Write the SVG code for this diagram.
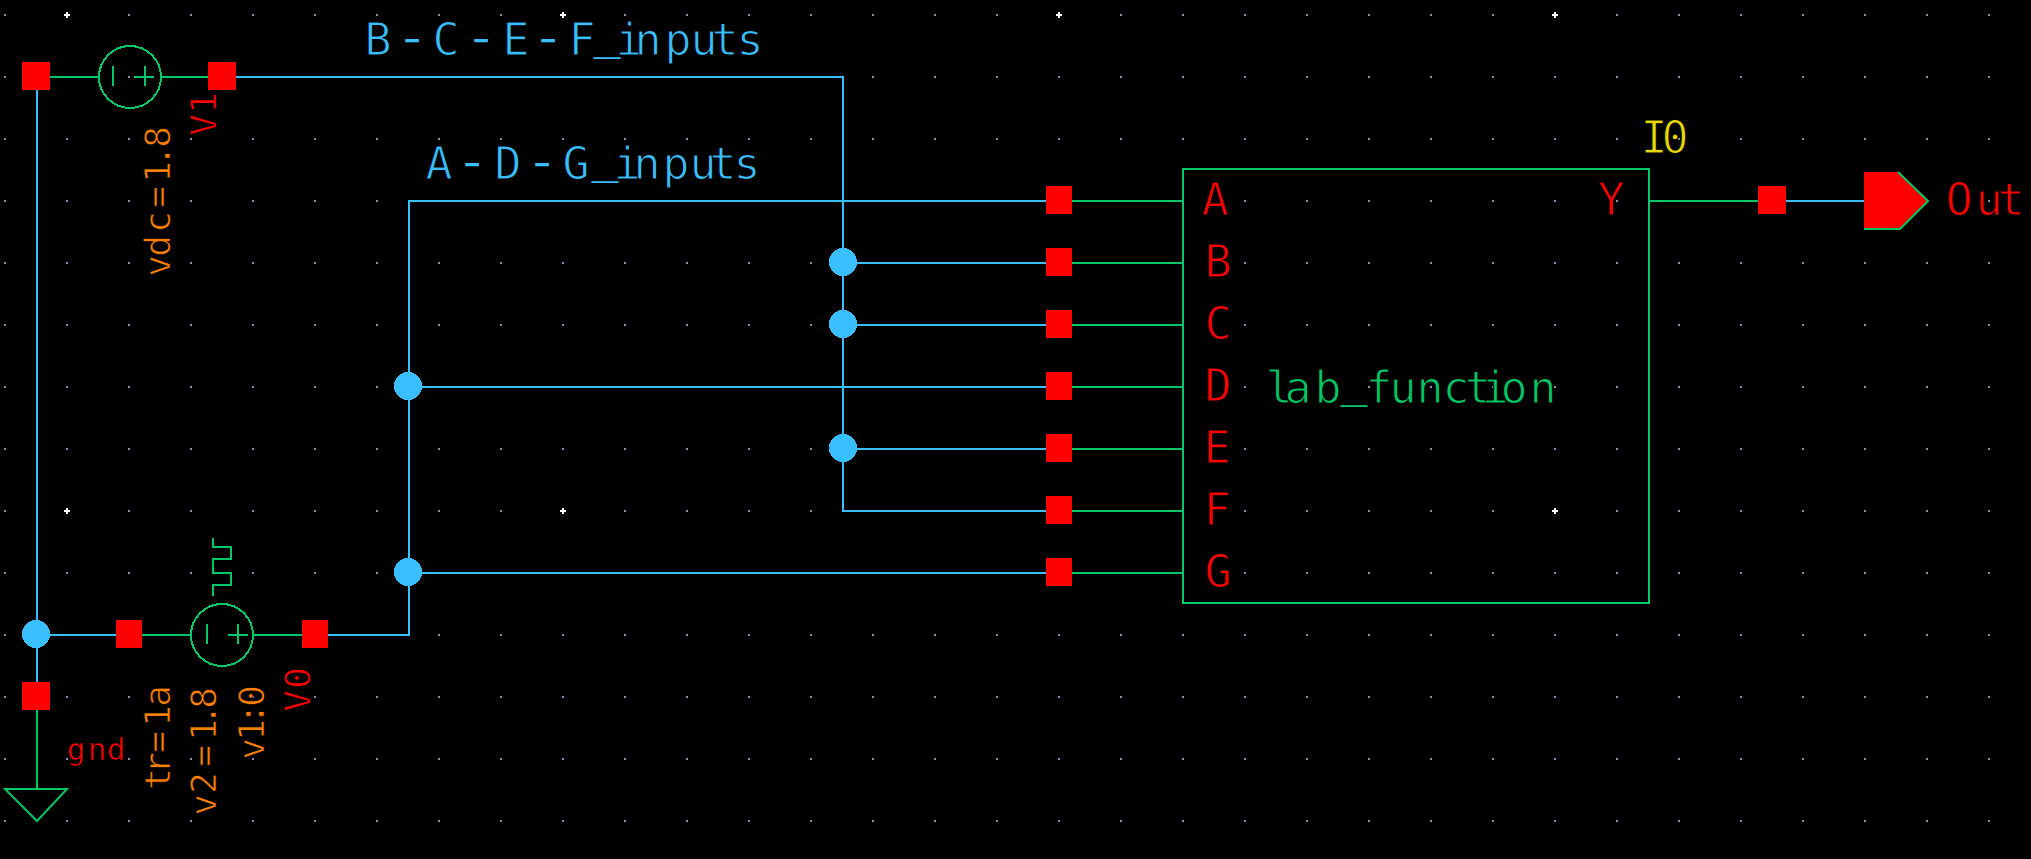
<svg xmlns="http://www.w3.org/2000/svg" width="2031" height="859" viewBox="0 0 2031 859">
<style>
.w{fill:none;stroke:#39bfff;stroke-width:2;shape-rendering:crispEdges}
.s{fill:none;stroke:#00c864;stroke-width:2;shape-rendering:crispEdges}
.p{fill:#f00;shape-rendering:crispEdges}
.j{fill:#39bfff;shape-rendering:crispEdges}
text{font-family:"DejaVu Sans Mono","Liberation Mono",monospace;text-anchor:middle;stroke:#000}
.big{font-size:45px;stroke-width:1.1px}
.small{font-size:36px;stroke-width:.8px}
.gn{font-size:31px;stroke-width:.6px}
.d{font-size:60px;stroke-width:1.6px}
.u{stroke:none}
.bl{fill:#39bfff}.gr{fill:#00c864}.rd{fill:#f00}.or{fill:#ff8000}.ye{fill:#e6d800}
.x{fill:#fff;shape-rendering:crispEdges}
</style>
<defs>
<pattern id="dots" patternUnits="userSpaceOnUse" x="4" y="14" width="62" height="62">
<rect width="2" height="2" fill="#8f8fb0"/>
</pattern>
<g id="cross"><rect x="-3" y="-1" width="6" height="2" class="x"/><rect x="-1" y="-3" width="2" height="6" class="x"/></g>
</defs>
<rect width="2031" height="859" fill="#000"/>
<g id="grid">
<rect x="4" y="14" width="2027" height="809" fill="url(#dots)"/>
<use href="#cross" x="67" y="15"/><use href="#cross" x="563" y="15"/><use href="#cross" x="1059" y="15"/><use href="#cross" x="1555" y="15"/>
<use href="#cross" x="67" y="511"/><use href="#cross" x="563" y="511"/><use href="#cross" x="1555" y="511"/>
</g>
<g id="connectors">
<path class="w" d="M37 90V682"/>
<path class="w" d="M236 77H843V511H1046"/>
<path class="w" d="M843 263H1046M843 325H1046M843 449H1046"/>
<path class="w" d="M328 635H409V201H1046"/>
<path class="w" d="M409 387H1046M409 573H1046"/>
<path class="w" d="M50 635H116"/>
<path class="w" d="M1786 201H1864"/>
<path class="s" d="M1072 201H1183M1072 263H1183M1072 325H1183M1072 387H1183M1072 449H1183M1072 511H1183M1072 573H1183"/>
<path class="s" d="M1649 201H1758"/>
<circle class="j" cx="843" cy="262" r="14"/><circle class="j" cx="843" cy="324" r="14"/><circle class="j" cx="843" cy="448" r="14"/>
<circle class="j" cx="408" cy="386" r="14"/><circle class="j" cx="408" cy="572" r="14"/><circle class="j" cx="36" cy="634" r="14"/>
<text class="big bl" y="55"><tspan x="378">B</tspan><tspan class="d" x="412" y="57">-</tspan><tspan x="446" y="55">C</tspan><tspan class="d" x="481" y="57">-</tspan><tspan x="516" y="55">E</tspan><tspan class="d" x="548" y="57">-</tspan><tspan x="582" y="55">F</tspan><tspan class="u" x="607" y="48">_</tspan><tspan x="629 648 678 704 725 750" y="55">inputs</tspan></text>
<text class="big bl" y="179"><tspan x="439">A</tspan><tspan class="d" x="472" y="181">-</tspan><tspan x="508" y="179">D</tspan><tspan class="d" x="542" y="181">-</tspan><tspan x="576" y="179">G</tspan><tspan class="u" x="605" y="172">_</tspan><tspan x="627 647 676 703 723 747" y="179">inputs</tspan></text>
</g>
<g id="pins">
<rect class="p" x="22" y="62" width="28" height="28"/><rect class="p" x="208" y="62" width="28" height="28"/>
<rect class="p" x="116" y="620" width="26" height="28"/><rect class="p" x="302" y="620" width="26" height="28"/>
<rect class="p" x="22" y="682" width="28" height="28"/>
<rect class="p" x="1046" y="186" width="26" height="28"/><rect class="p" x="1046" y="248" width="26" height="28"/><rect class="p" x="1046" y="310" width="26" height="28"/><rect class="p" x="1046" y="372" width="26" height="28"/><rect class="p" x="1046" y="434" width="26" height="28"/><rect class="p" x="1046" y="496" width="26" height="28"/><rect class="p" x="1046" y="558" width="26" height="28"/>
<rect class="p" x="1758" y="186" width="28" height="28"/>
</g>
<g id="V1">
<path class="s" d="M50 77H99M161 77H208"/>
<circle class="s" cx="130" cy="77" r="31"/>
<path class="s" d="M113 66V86M134 77H154M145 66V86"/>
<text class="small or" transform="translate(170 0) rotate(-90)" x="-266 -246 -222 -197 -172 -156 -137" y="0">vdc=1.8</text>
<text class="small rd" transform="translate(216 0) rotate(-90)" x="-125 -103" y="0">V1</text>
</g>
<g id="V0">
<path class="s" d="M142 635H191M253 635H302"/>
<circle class="s" cx="222" cy="635" r="31"/>
<path class="s" d="M207 624V644M228 635H248M238 624V644"/>
<path class="s" d="M213 596V585H231V573H213V559H231V547H213V538"/>
<text class="small or" transform="translate(170 0) rotate(-90)" x="-779 -763 -742 -716 -696" y="0">tr=1a</text>
<text class="small or" transform="translate(216 0) rotate(-90)" x="-805 -783 -756 -730 -715 -698" y="0">v2=1.8</text>
<text class="small or" transform="translate(264 0) rotate(-90)" x="-749 -730 -714 -696" y="0">v1:0</text>
<text class="small rd" transform="translate(310 0) rotate(-90)" x="-701 -678" y="0">V0</text>
</g>
<g id="gnd">
<path class="s" d="M37 710V789"/>
<path class="s" d="M5 789H67L37 821Z" style="shape-rendering:auto"/>
<text class="gn rd" x="76 97 116" y="760">gnd</text>
</g>
<g id="I0">
<rect class="s" x="1183" y="169" width="466" height="434"/>
<text class="big rd" x="1215" y="215">A</text>
<text class="big rd" x="1218" y="277">B</text>
<text class="big rd" x="1218" y="339">C</text>
<text class="big rd" x="1218" y="401">D</text>
<text class="big rd" x="1217" y="463">E</text>
<text class="big rd" x="1217" y="525">F</text>
<text class="big rd" x="1218" y="587">G</text>
<text class="big rd" x="1611" y="215">Y</text>
<text class="big gr" y="403"><tspan x="1279 1298 1328">lab</tspan><tspan class="u" x="1354" y="396">_</tspan><tspan x="1379 1403 1430 1456 1478 1495 1514 1543" y="403">function</tspan></text>
<text class="big ye" x="1654 1675" y="153">I0</text>
</g>
<g id="Out">
<path d="M1864 172H1898L1928 201L1900 229H1864Z" fill="#f00"/>
<path d="M1898 172L1928 201L1900 229H1864" fill="none" stroke="#00c864" stroke-width="2"/>
<text class="big rd" x="1959 1989 2011" y="215">Out</text>
</g>
</svg>
